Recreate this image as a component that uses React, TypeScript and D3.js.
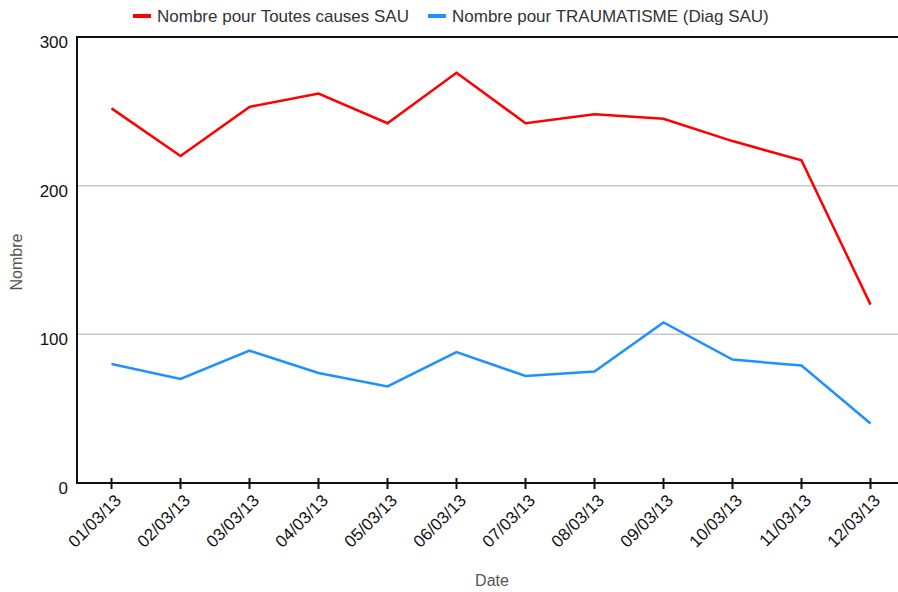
import { useEffect, useRef } from 'react';
import * as d3 from 'd3';

const DATES = ['01/03/13', '02/03/13', '03/03/13', '04/03/13', '05/03/13', '06/03/13', '07/03/13', '08/03/13', '09/03/13', '10/03/13', '11/03/13', '12/03/13'];
const TOUTES = [252, 220, 253, 262, 242, 276, 242, 248, 245, 230, 217, 120];
const TRAUMA = [80, 70, 89, 74, 65, 88, 72, 75, 108, 83, 79, 40];
const Y_TICKS = [0, 100, 200, 300];
const SERIES = [
  { name: 'Nombre pour Toutes causes SAU', values: TOUTES, color: '#ff0000' },
  { name: 'Nombre pour TRAUMATISME (Diag SAU)', values: TRAUMA, color: '#1e90ff' },
];

const W = 898, H = 592;
const M = { top: 37, right: -7, bottom: 109, left: 77 };
const FONT = 'Arial, "Liberation Sans", sans-serif';

export default function App() {
  const ref = useRef<SVGSVGElement>(null);
  useEffect(() => {
    const svg = d3.select(ref.current); svg.selectAll('*').remove();
    const x = d3.scalePoint().domain(DATES).range([M.left, W - M.right]).padding(0.5);
    const y = d3.scaleLinear().domain([0, 300]).range([H - M.bottom, M.top]);

    // gridlines
    svg.append('g').selectAll('line').data(Y_TICKS.filter(t => t > 0 && t < 300)).join('line')
      .attr('x1', M.left).attr('x2', W).attr('y1', d => y(d)).attr('y2', d => y(d))
      .attr('stroke', '#c8c8c8').attr('stroke-width', 1.5);

    // frame: top, left, bottom
    svg.append('line').attr('x1', M.left).attr('x2', W).attr('y1', y(300)).attr('y2', y(300)).attr('stroke', '#111').attr('stroke-width', 2);
    svg.append('line').attr('x1', M.left).attr('x2', W).attr('y1', y(0)).attr('y2', y(0)).attr('stroke', '#111').attr('stroke-width', 2);
    svg.append('line').attr('x1', M.left).attr('x2', M.left).attr('y1', y(300) - 1).attr('y2', y(0) + 1).attr('stroke', '#111').attr('stroke-width', 2);

    // y tick labels
    svg.append('g').selectAll('text').data(Y_TICKS).join('text')
      .attr('x', 68).attr('y', d => y(d) + 11).attr('text-anchor', 'end')
      .attr('font-family', FONT).attr('font-size', 17).attr('fill', '#111').text(d => d);

    // x ticks and labels
    const xa = svg.append('g');
    xa.selectAll('line').data(DATES).join('line')
      .attr('x1', d => x(d)!).attr('x2', d => x(d)!).attr('y1', y(0) - 5).attr('y2', y(0) + 6)
      .attr('stroke', '#111').attr('stroke-width', 2);
    xa.selectAll('text').data(DATES).join('text')
      .attr('transform', d => `translate(${x(d)! + 2},${y(0) + 10}) rotate(-45)`)
      .attr('text-anchor', 'end').attr('dy', '0.72em')
      .attr('font-family', FONT).attr('font-size', 17).attr('fill', '#111').text(d => d);

    // lines
    const line = d3.line<number>().x((_, i) => x(DATES[i])!).y(d => y(d));
    svg.append('g').selectAll('path').data(SERIES).join('path')
      .attr('d', d => line(d.values)).attr('fill', 'none')
      .attr('stroke', d => d.color).attr('stroke-width', 2.5).attr('stroke-linejoin', 'miter');

    // axis titles
    svg.append('text').attr('x', 492).attr('y', 586).attr('text-anchor', 'middle')
      .attr('font-family', FONT).attr('font-size', 16).attr('fill', '#555').text('Date');
    svg.append('text').attr('transform', 'translate(22,262) rotate(-90)').attr('text-anchor', 'middle')
      .attr('font-family', FONT).attr('font-size', 16).attr('fill', '#555').text('Nombre');

    // legend
    const lg = svg.append('g');
    const offs = [133, 428];
    SERIES.forEach((s, i) => {
      lg.append('line').attr('x1', offs[i]).attr('x2', offs[i] + 18).attr('y1', 16).attr('y2', 16)
        .attr('stroke', s.color).attr('stroke-width', 4);
      lg.append('text').attr('x', offs[i] + 24).attr('y', 22)
        .attr('font-family', FONT).attr('font-size', 17).attr('fill', '#333').text(s.name);
    });
  }, []);
  return <svg ref={ref} width={W} height={H} style={{ position: 'absolute', left: 0, top: 0, background: '#fff' }} />;
}
